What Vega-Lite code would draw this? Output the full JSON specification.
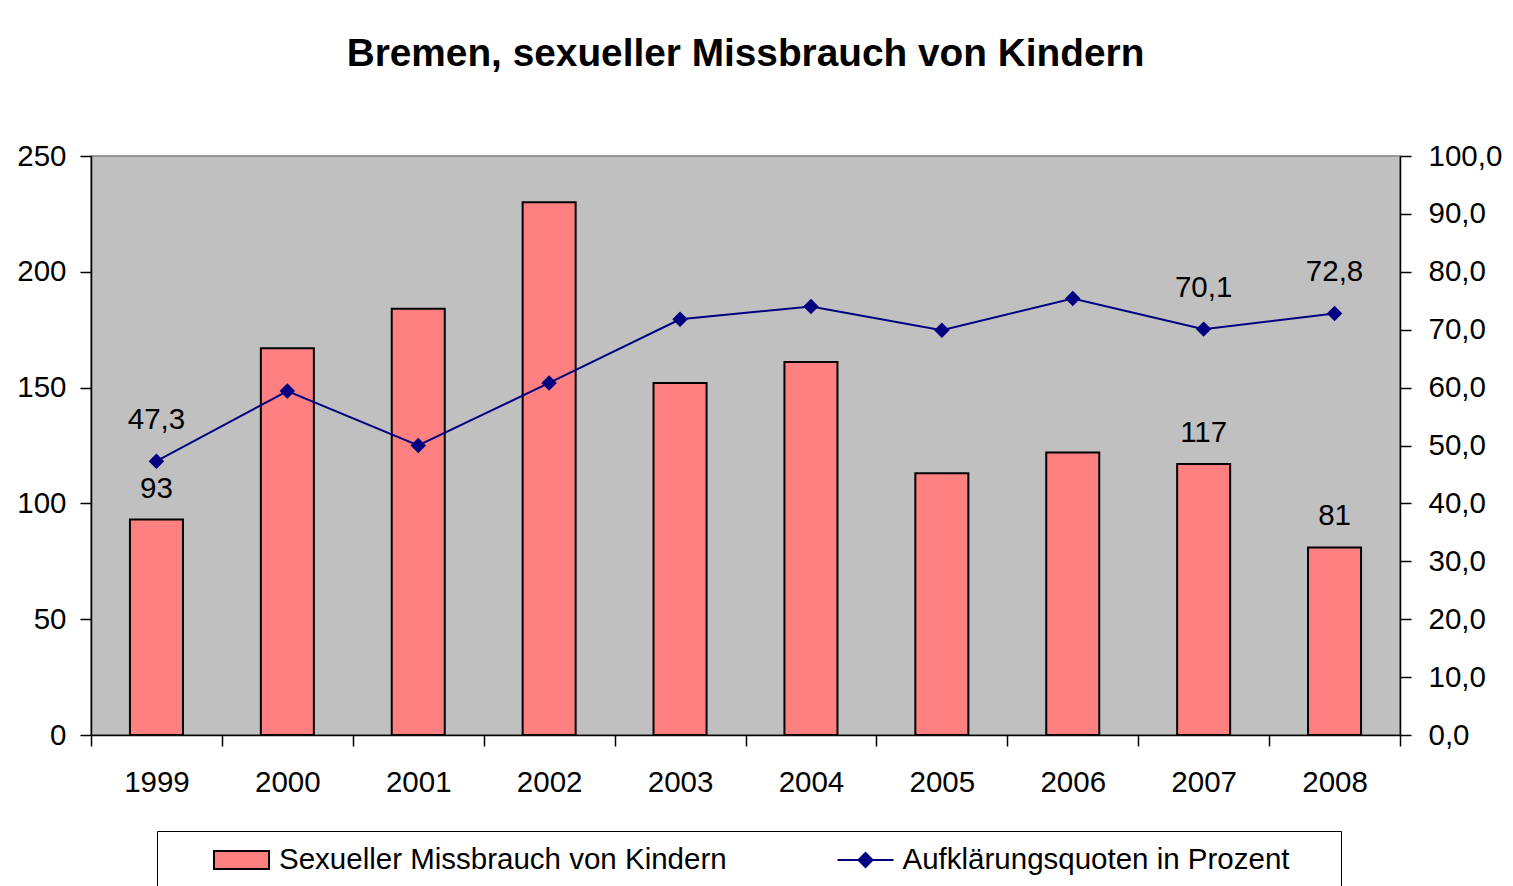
{
  "$schema": "https://vega.github.io/schema/vega-lite/v6.json",
  "width": 1309,
  "height": 579,
  "autosize": {"type": "none"},
  "padding": {"left": 91, "top": 156, "right": 113, "bottom": 151},
  "background": "white",
  "title": {
    "text": "Bremen, sexueller Missbrauch von Kindern",
    "font": "Liberation Sans",
    "fontSize": 38.8,
    "fontWeight": "bold",
    "color": "black",
    "anchor": "middle",
    "frame": "group",
    "offset": 67
  },
  "config": {
    "font": "Liberation Sans",
    "locale": {"number": {"decimal": ",", "thousands": ".", "grouping": [3], "currency": ["", " €"]}},
    "view": {"fill": "#C0C0C0", "stroke": "#808080", "strokeWidth": 1.5},
    "axis": {
      "labelFont": "Liberation Sans",
      "labelFontSize": 29.5,
      "labelColor": "black",
      "domainColor": "black",
      "domainWidth": 1.5,
      "tickColor": "black",
      "tickWidth": 1.5,
      "tickSize": 11,
      "grid": false,
      "title": null
    },
    "legend": {
      "labelFont": "Liberation Sans",
      "labelFontSize": 29.5,
      "labelColor": "black",
      "labelLimit": 0,
      "symbolSize": 784,
      "symbolOpacity": 1,
      "padding": 14,
      "orient": "none"
    }
  },
  "data": {
    "values": [
      {"year": "1999", "cases": 93, "rate": 47.3, "showBar": true, "showRate": true},
      {"year": "2000", "cases": 167, "rate": 59.4, "showBar": false, "showRate": false},
      {"year": "2001", "cases": 184, "rate": 50.0, "showBar": false, "showRate": false},
      {"year": "2002", "cases": 230, "rate": 60.8, "showBar": false, "showRate": false},
      {"year": "2003", "cases": 152, "rate": 71.8, "showBar": false, "showRate": false},
      {"year": "2004", "cases": 161, "rate": 74.0, "showBar": false, "showRate": false},
      {"year": "2005", "cases": 113, "rate": 69.9, "showBar": false, "showRate": false},
      {"year": "2006", "cases": 122, "rate": 75.4, "showBar": false, "showRate": false},
      {"year": "2007", "cases": 117, "rate": 70.1, "showBar": true, "showRate": true},
      {"year": "2008", "cases": 81, "rate": 72.8, "showBar": true, "showRate": true}
    ]
  },
  "encoding": {
    "x": {
      "field": "year",
      "type": "ordinal",
      "scale": {"paddingInner": 0, "paddingOuter": 0},
      "axis": {"labelAngle": 0, "tickBand": "extent", "labelPadding": 22, "domainColor": "black"}
    }
  },
  "layer": [
    {
      "encoding": {
        "y": {
          "field": "cases",
          "type": "quantitative",
          "scale": {"domain": [0, 250], "nice": false},
          "axis": {"orient": "left", "values": [0, 50, 100, 150, 200, 250], "labelPadding": 14}
        }
      },
      "layer": [
        {
          "mark": {"type": "bar", "stroke": "black", "strokeWidth": 2, "width": {"band": 0.405}},
          "encoding": {
            "fill": {
              "datum": "Sexueller Missbrauch von Kindern",
              "type": "nominal",
              "scale": {"range": ["#FF8080"]},
              "legend": {
                "legendX": 66,
                "legendY": 675,
                "title": " ",
                "titleOrient": "right",
                "titleFontSize": 10,
                "titlePadding": 600,
                "strokeColor": "black",
                "labelOffset": 78,
                "symbolType": "M2,-0.64H5.93V0.64H2Z",
                "symbolStrokeColor": "black",
                "symbolStrokeWidth": 2,
                "symbolFillColor": "#FF8080"
              }
            }
          }
        },
        {
          "transform": [{"filter": "datum.showBar"}],
          "mark": {"type": "text", "baseline": "middle", "dy": -31, "fontSize": 29.5, "color": "black", "font": "Liberation Sans"},
          "encoding": {
            "text": {"field": "cases", "type": "quantitative", "format": "d"}
          }
        }
      ]
    },
    {
      "encoding": {
        "y": {
          "field": "rate",
          "type": "quantitative",
          "scale": {"domain": [0, 100], "nice": false},
          "axis": {"orient": "right", "values": [0, 10, 20, 30, 40, 50, 60, 70, 80, 90, 100], "format": ".1f", "labelPadding": 17}
        }
      },
      "layer": [
        {
          "mark": {
            "type": "line",
            "strokeWidth": 2,
            "point": {"shape": "diamond", "size": 240, "filled": true, "fill": "#000080", "stroke": "#000080", "strokeWidth": 0}
          },
          "encoding": {
            "stroke": {
              "datum": "Aufklärungsquoten in Prozent",
              "type": "nominal",
              "scale": {"range": ["#000080"]},
              "legend": {
                "legendX": 745.5,
                "legendY": 675,
                "title": null,
                "labelOffset": 22,
                "symbolType": "M-2,0H2M0,-0.5L0.5,0L0,0.5L-0.5,0Z",
                "symbolStrokeWidth": 2,
                "symbolStrokeColor": "#000080",
                "symbolFillColor": "#000080"
              }
            }
          }
        },
        {
          "transform": [{"filter": "datum.showRate"}],
          "mark": {"type": "text", "baseline": "middle", "dy": -41, "fontSize": 29.5, "color": "black", "font": "Liberation Sans"},
          "encoding": {
            "text": {"field": "rate", "type": "quantitative", "format": ".1f"}
          }
        }
      ]
    }
  ],
  "resolve": {"scale": {"y": "independent"}}
}
